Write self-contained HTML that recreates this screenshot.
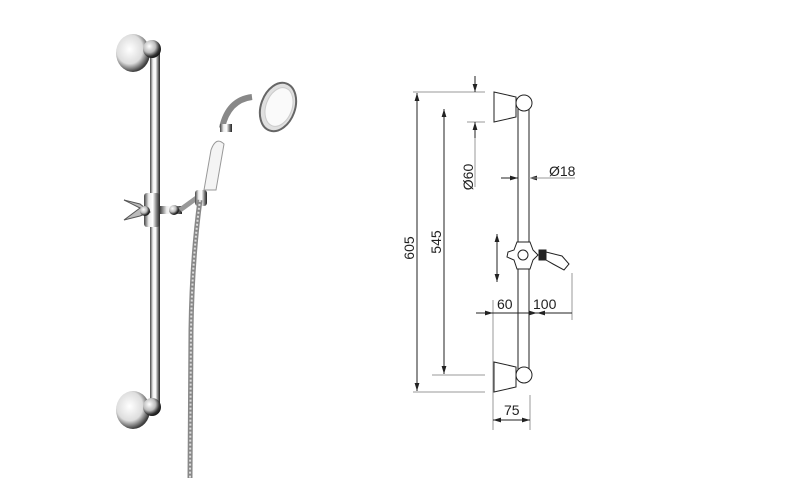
<!DOCTYPE html>
<html><head><style>
html,body{margin:0;padding:0;background:#fff;width:800px;height:500px;overflow:hidden}
svg{display:block}
text{font-family:"Liberation Sans",sans-serif;fill:#222}
</style></head><body>
<svg width="800" height="500" viewBox="0 0 800 500">
<defs>
<linearGradient id="chrome" x1="0" x2="1">
<stop offset="0" stop-color="#444"/><stop offset="0.3" stop-color="#eee"/><stop offset="0.55" stop-color="#fff"/><stop offset="0.8" stop-color="#777"/><stop offset="1" stop-color="#222"/>
</linearGradient>
<radialGradient id="ball" cx="0.35" cy="0.35" r="0.7">
<stop offset="0" stop-color="#fff"/><stop offset="0.5" stop-color="#bbb"/><stop offset="0.8" stop-color="#333"/><stop offset="1" stop-color="#111"/>
</radialGradient>
<radialGradient id="disk" cx="0.4" cy="0.4" r="0.7">
<stop offset="0" stop-color="#fff"/><stop offset="0.55" stop-color="#ddd"/><stop offset="0.85" stop-color="#444"/><stop offset="1" stop-color="#222"/>
</radialGradient>
<marker id="ar" viewBox="0 0 10 10" refX="10" refY="5" markerWidth="8" markerHeight="8" orient="auto-start-reverse"><path d="M0,2 L10,5 L0,8 z" fill="#222"/></marker>
</defs>

<!-- Photo -->
<ellipse cx="133" cy="53" rx="17" ry="19" fill="url(#disk)"/>
<ellipse cx="133" cy="410" rx="17" ry="19" fill="url(#disk)"/>
<rect x="150" y="52" width="10" height="355" fill="url(#chrome)"/>
<circle cx="152" cy="49" r="9" fill="url(#ball)"/>
<circle cx="152" cy="407" r="9" fill="url(#ball)"/>
<!-- slider -->
<rect x="144" y="193" width="16" height="34" rx="3" fill="url(#chrome)"/>
<path d="M124,200 L140,208 L124,220 L140,216 L150,212 L140,204 Z" fill="#bbb" stroke="#555" stroke-width="1"/>
<circle cx="145" cy="211" r="5" fill="url(#ball)"/>
<rect x="160" y="206" width="22" height="8" fill="url(#chrome)"/>
<circle cx="174" cy="210" r="5" fill="url(#ball)"/>
<path d="M180,210 L198,197" stroke="#999" stroke-width="5"/>
<rect x="195" y="190" width="12" height="16" rx="3" fill="url(#chrome)"/>
<!-- handle -->
<path d="M204,190 L211,150 Q216,136 224,144 L216,190 Z" fill="#f4f4f4" stroke="#999"/>
<path d="M222,128 Q228,100 252,97" stroke="#888" stroke-width="6" fill="none"/>
<rect x="220" y="124" width="12" height="8" fill="url(#chrome)"/>
<ellipse cx="278" cy="107" rx="17" ry="25" transform="rotate(20 278 107)" fill="#e0e0e0" stroke="#666" stroke-width="2"/>
<ellipse cx="279" cy="107" rx="13" ry="20" transform="rotate(20 279 107)" fill="#fafafa" stroke="#ccc"/>
<!-- hose -->
<path d="M200,200 Q192,260 191,330 L190,478" stroke="#888" stroke-width="5" fill="none"/>
<path d="M200,200 Q192,260 191,330 L190,478" stroke="#ddd" stroke-width="2" stroke-dasharray="2 2" fill="none"/>

<!-- Drawing -->
<g stroke="#222" stroke-width="1" fill="none">
<path d="M494,92 L516,97 L516,117 L494,122 Z"/>
<path d="M494,362 L516,367 L516,387 L494,392 Z"/>
<rect x="518" y="103" width="11" height="270"/>
<circle cx="524" cy="103" r="8" fill="#fff"/>
<circle cx="524" cy="375" r="8" fill="#fff"/>
<path d="M517,242 L530,242 L533,250 L538,255 L533,260 L530,269 L517,269 L514,260 L507,257 L508,252 L514,250 Z" fill="#fff"/>
<circle cx="523" cy="255" r="5"/>
<rect x="539" y="250" width="7" height="10" fill="#222"/>
<path d="M546,252 L562,256 L569,264 L564,270 L553,264 L546,260"/>
</g>
<g stroke="#999" stroke-width="1">
<line x1="413" y1="92" x2="485" y2="92"/>
<line x1="413" y1="392" x2="485" y2="392"/>
<line x1="432" y1="375" x2="485" y2="375"/>
<line x1="467" y1="122" x2="485" y2="122"/>
<line x1="493" y1="300" x2="493" y2="430"/>
<line x1="530" y1="395" x2="530" y2="430"/>
<line x1="572" y1="273" x2="572" y2="320"/>
<line x1="475" y1="122" x2="475" y2="187"/>
</g>
<g stroke="#222" stroke-width="1" fill="none">
<line x1="417" y1="93" x2="417" y2="391" marker-start="url(#ar)" marker-end="url(#ar)"/>
<line x1="444" y1="109" x2="444" y2="374" marker-start="url(#ar)" marker-end="url(#ar)"/>
<line x1="475" y1="76" x2="475" y2="92" marker-end="url(#ar)"/>
<line x1="475" y1="138" x2="475" y2="122" marker-end="url(#ar)"/>
<line x1="501" y1="178" x2="518" y2="178" marker-end="url(#ar)"/>
<line x1="546" y1="178" x2="529" y2="178" marker-end="url(#ar)"/>
<line x1="529" y1="178" x2="575" y2="178" stroke="#999"/>
<line x1="497" y1="234" x2="497" y2="282" marker-start="url(#ar)" marker-end="url(#ar)"/>
<line x1="476" y1="313" x2="493" y2="313" marker-end="url(#ar)"/>
<line x1="493" y1="313" x2="537" y2="313" marker-end="url(#ar)"/>
<line x1="537" y1="313" x2="572" y2="313" marker-start="url(#ar)"/>
<line x1="493" y1="420" x2="530" y2="420" marker-start="url(#ar)" marker-end="url(#ar)"/>
</g>
<g font-size="14">
<text x="414" y="248" transform="rotate(-90 414 248)" text-anchor="middle">605</text>
<text x="441" y="242" transform="rotate(-90 441 242)" text-anchor="middle">545</text>
<text x="473" y="177" transform="rotate(-90 473 177)" text-anchor="middle">Ø60</text>
<text x="549" y="176">Ø18</text>
<text x="497" y="309">60</text>
<text x="533" y="309">100</text>
<text x="504" y="415">75</text>
</g>
</svg>
</body></html>
